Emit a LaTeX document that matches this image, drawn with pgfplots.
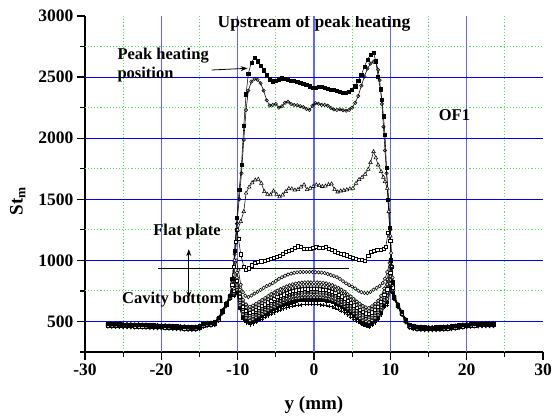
\documentclass[border=0pt]{standalone}
\usepackage{fontspec}
\setmainfont{Liberation Serif}
\usepackage{pgfplots}
\usepackage{pgfplotstable}
\pgfplotsset{compat=1.18}
\usetikzlibrary{arrows.meta}
\definecolor{gridblue}{RGB}{0,0,255}
\definecolor{vgridblue}{RGB}{100,100,255}
\definecolor{gridgreen}{RGB}{80,230,80}

\pgfplotstableread{
x s1 s2 s3 s4 s5 s6 s7 s8 s9 s10 s11 s12 s13
-27 480 476 472 468 464 484 460 478 466 474 470 482 462
-26.5 479 475 471 467 463 483 459 477 465 473 469 481 461
-26 478 474 470 466 462 482 458 476 464 472 468 480 460
-25.5 477 473 469 465 461 481 457 475 463 471 467 479 459
-25 476 472 468 464 460 480 456 474 462 470 466 478 458
-24.5 475 471 467 463 459 479 455 473 461 469 465 477 457
-24 474 470 466 462 458 478 454 472 460 468 464 476 456
-23.5 473 469 465 461 457 477 453 471 459 467 463 475 455
-23 473 469 465 461 457 477 453 471 459 467 463 475 455
-22.5 472 468 464 460 456 476 452 470 458 466 462 474 454
-22 471 467 463 459 455 475 451 469 457 465 461 473 453
-21.5 469 465 461 457 453 473 449 467 455 463 459 471 451
-21 468 464 460 456 452 472 448 466 454 462 458 470 450
-20.5 467 463 459 455 451 471 447 465 453 461 457 469 449
-20 466 462 458 454 450 470 446 464 452 460 456 468 448
-19.5 465 461 457 453 449 469 445 463 451 459 455 467 447
-19 463 459 455 451 447 467 443 461 449 457 453 465 445
-18.5 461 457 453 449 445 465 441 459 447 455 451 463 443
-18 460 456 452 448 444 464 440 458 446 454 450 462 442
-17.5 458 454 450 446 442 462 438 456 444 452 448 460 440
-17 456 452 448 444 440 460 436 454 442 450 446 458 438
-16.5 454 450 446 442 438 458 434 452 440 448 444 456 436
-16 453 449 445 441 437 457 433 451 439 447 443 455 435
-15.5 454 450 446 442 438 458 434 452 440 448 444 456 436
-15 460 456 452 448 444 464 440 458 446 454 450 462 442
-14.5 478 474 470 466 462 482 458 476 464 472 468 480 460
-14 486 482 478 474 470 490 466 484 472 480 476 488 468
-13.5 488 484 480 476 472 492 468 486 474 482 478 490 470
-13 493 489 485 481 477 497 473 491 479 487 483 495 475
-12.5 528 524 520 516 512 532 508 526 514 522 518 530 510
-12 588 584 580 576 572 592 568 586 574 582 578 590 570
-11.5 648 644 640 636 632 652 628 646 634 642 638 650 630
-11 708 704 700 696 692 712 688 706 694 702 698 710 690
}\outerL

\pgfplotstableread{
x s1 s2 s3 s4 s5 s6 s7 s8 s9 s10 s11 s12 s13
10.5 705 701 697 693 689 709 685 703 691 699 695 707 687
11 638 634 630 626 622 642 618 636 624 632 628 640 620
11.5 578 574 570 566 562 582 558 576 564 572 568 580 560
12 515 511 507 503 499 519 495 513 501 509 505 517 497
12.5 470 466 462 458 454 474 450 468 456 464 460 472 452
13 460 456 452 448 444 464 440 458 446 454 450 462 442
13.5 455 451 447 443 439 459 435 453 441 449 445 457 437
14 453 449 445 441 437 457 433 451 439 447 443 455 435
14.5 452 448 444 440 436 456 432 450 438 446 442 454 434
15 451 447 443 439 435 455 431 449 437 445 441 453 433
15.5 451 447 443 439 435 455 431 449 437 445 441 453 433
16 452 448 444 440 436 456 432 450 438 446 442 454 434
16.5 453 449 445 441 437 457 433 451 439 447 443 455 435
17 455 451 447 443 439 459 435 453 441 449 445 457 437
17.5 457 453 449 445 441 461 437 455 443 451 447 459 439
18 460 456 452 448 444 464 440 458 446 454 450 462 442
18.5 463 459 455 451 447 467 443 461 449 457 453 465 445
19 468 464 460 456 452 472 448 466 454 462 458 470 450
19.5 472 468 464 460 456 476 452 470 458 466 462 474 454
20 476 472 468 464 460 480 456 474 462 470 466 478 458
20.5 479 475 471 467 463 483 459 477 465 473 469 481 461
21 481 477 473 469 465 485 461 479 467 475 471 483 463
21.5 482 478 474 470 466 486 462 480 468 476 472 484 464
22 483 479 475 471 467 487 463 481 469 477 473 485 465
22.5 483 479 475 471 467 487 463 481 469 477 473 485 465
23 484 480 476 472 468 488 464 482 470 478 474 486 466
23.5 484 480 476 472 468 488 464 482 470 478 474 486 466
}\outerR

\pgfplotstableread{
x s6 s7 s8 s9 s10 s11 s12 s13
-11 712 688 706 694 702 698 710 690
-10.5 800 770 750 740 730 720 715 710
-10.1 900 860 830 800 780 760 740 720
-9.7 760 728 700 675 655 635 615 598
-9.3 676 648 622 600 580 560 540 520
-8.9 640 615 590 570 550 530 510 490
-8.4 620 595 570 550 530 510 490 475
-8 630 605 580 560 540 520 499 483
-7.6 644 618 593 573 553 533 513 495
-7.2 660 634 609 588 568 548 528 508
-6.8 676 650 625 604 583 563 543 521
-6.4 692 665 640 619 598 578 558 534
-6 708 681 656 634 614 594 573 548
-5.6 724 696 671 650 629 609 588 561
-5.2 738 710 685 663 642 622 601 572
-4.8 752 724 699 677 655 635 614 584
-4.4 764 735 710 688 667 647 625 594
-4 776 747 722 700 678 658 637 604
-3.6 786 757 732 709 688 668 646 612
-3.2 796 767 742 719 697 677 655 620
-2.8 804 774 749 727 705 685 663 627
-2.4 810 780 755 732 711 691 669 632
-2 814 784 759 736 714 694 672 635
-1.6 818 788 763 740 718 698 676 638
-1.2 820 790 765 742 720 700 678 640
-0.8 821 791 764 743 719 701 677 641
-0.4 820 790 765 742 720 700 678 640
0 819 791 766 741 721 699 679 639
0.4 820 790 765 742 720 700 678 640
0.8 818 788 763 740 718 698 676 638
1.2 816 786 761 738 716 696 674 636
1.6 812 782 757 734 712 692 670 633
2 805 776 751 728 706 686 664 627
2.4 797 767 742 719 697 677 656 620
2.8 786 757 732 709 687 667 646 610
3.2 774 745 720 696 675 655 633 599
3.6 759 731 706 682 661 641 619 586
4 742 714 689 665 644 624 603 572
4.4 723 696 671 647 626 606 585 555
4.8 705 677 652 628 607 587 566 538
5.2 684 657 632 607 587 567 546 520
5.6 663 636 611 587 566 546 526 501
6 644 618 593 568 548 528 507 485
6.4 627 601 576 552 531 511 491 470
6.8 616 591 566 541 521 501 481 461
7.2 610 585 560 535 515 495 475 455
7.6 625 600 575 550 530 510 490 470
8 645 620 595 570 550 530 510 490
8.4 670 645 620 595 575 555 535 515
8.8 710 685 660 635 615 595 575 555
9.2 770 745 720 695 675 655 635 615
9.6 844 804 764 736 710 684 658 632
10 1000 950 900 870 840 810 780 750
10.3 820 800 780 770 760 750 740 730
10.5 709 685 703 691 699 695 707 687
}\lowc

\pgfplotsset{
 base/.style={black, line width=0.55pt},
 s1/.style={base, mark=square*, mark size=1.6pt, mark options={solid, fill=black}},
 s2/.style={base, mark=o, mark size=1.7pt, mark options={solid, fill=white, line width=0.55pt}},
 s3/.style={base, mark=triangle*, mark size=2.1pt, mark options={solid, fill=white, line width=0.55pt}},
 s4/.style={base, mark=square*, mark size=1.6pt, mark options={solid, fill=white, line width=0.55pt}},
 s5/.style={base, mark=*, mark size=1.7pt, mark options={solid, fill=white, line width=0.55pt}},
 s6/.style={base, mark=*, mark size=1.7pt, mark options={solid, fill=white, line width=0.6pt}},
 s7/.style={base, mark=diamond*, mark size=2pt, mark options={solid, fill=white, line width=0.6pt}},
 s8/.style={base, mark=square*, mark size=1.6pt, mark options={solid, fill=white, line width=0.6pt}},
 s9/.style={base, mark=triangle*, mark size=2pt, mark options={solid, fill=white, line width=0.6pt}},
 s10/.style={base, mark=triangle*, mark size=2pt, mark options={solid, fill=white, rotate=180, line width=0.6pt}},
 s11/.style={base, mark=*, mark size=1.7pt, mark options={solid, fill=white, line width=0.6pt}},
 s12/.style={base, mark=square*, mark size=1.3pt, mark options={solid, fill=black}},
 s13/.style={base, mark=+, mark size=2pt, mark options={solid, line width=0.6pt}},
}

\begin{document}
\begin{tikzpicture}
\begin{axis}[
  scale only axis, width=458pt, height=336pt,
  xmin=-30, xmax=30, ymin=250, ymax=3000,
  axis x line*=bottom, axis y line*=left,
  axis line style={line width=1.4pt, black},
  xtick={-30,-20,...,30},
  ytick={500,1000,...,3000},
  minor xtick={-25,-15,-5,5,15,25}, minor ytick={250,750,1250,1750,2250,2750},
  tick align=outside, major tick length=8pt, minor tick length=4.5pt,
  tick style={draw=black, line width=1.2pt},
  scaled y ticks=false,
  /pgf/number format/1000 sep={},
  /pgf/number format/assume math mode=true,
  ticklabel style={font=\bfseries\fontsize{17.5}{18}\selectfont},
  xlabel={y (mm)},
  xlabel style={font=\bfseries\fontsize{19}{20}\selectfont, at={(axis description cs:0.5,-0.158)}, anchor=center},
  ylabel={St\textsubscript{m}},
  ylabel style={font=\bfseries\fontsize{19}{20}\selectfont, at={(axis description cs:-0.147,0.45)}, anchor=center},
]
% grid (drawn first, behind the data)
\pgfplotsinvokeforeach{-25,-15,-5,5,15,25}{
  \draw[gridgreen, dotted, line width=1.1pt] (axis cs:#1,250) -- (axis cs:#1,3000);
}
\pgfplotsinvokeforeach{750,1250,1750,2250,2750}{
  \draw[gridgreen, dotted, line width=1.1pt] (axis cs:-30,#1) -- (axis cs:30,#1);
}
\pgfplotsinvokeforeach{-20,-10,0,10,20}{
  \draw[vgridblue, line width=1.1pt] (axis cs:#1,250) -- (axis cs:#1,3000);
}
\pgfplotsinvokeforeach{500,1000,1500,2000,2500}{
  \draw[gridblue, line width=1pt] (axis cs:-30,#1) -- (axis cs:30,#1);
}
% lower cluster
\pgfplotsinvokeforeach{s13,s12,s11,s10,s9,s8,s7,s6}{
  \addplot[#1] table[x=x,y=#1] {\outerL};
  \addplot[#1] table[x=x,y=#1] {\lowc};
  \addplot[#1] table[x=x,y=#1] {\outerR};
}
% S5
\addplot[s5] table[x=x,y=s5] {\outerL};
\addplot[s5] coordinates {(-11,692)(-10.7,780)(-10.5,880)(-10.2,1000)(-9.9,920)(-9.6,800)(-9.3,740)(-9,710)(-8.6,700)(-8.2,712)(-7.8,728)(-7.4,742)(-7,758)(-6.6,775)(-6.2,790)(-5.8,800)(-5.4,815)(-5,832)(-4.6,848)(-4.2,862)(-3.8,874)(-3.4,884)(-3,892)(-2.6,898)(-2.2,902)(-1.8,905)(-1.4,905)(-1,905)(-0.6,905)(-0.2,904)(0.2,903)(0.6,902)(1,900)(1.4,896)(1.8,888)(2.2,880)(2.6,872)(3,862)(3.4,848)(3.8,830)(4.2,812)(4.6,798)(5,786)(5.4,770)(5.8,752)(6.2,740)(6.6,733)(7,732)(7.4,742)(7.8,760)(8.2,775)(8.6,790)(9,815)(9.3,850)(9.6,905)(9.9,980)(10.1,1060)(10.3,860)(10.5,689)};
\addplot[s5] table[x=x,y=s5] {\outerR};
% S4
\addplot[s4] table[x=x,y=s4] {\outerL};
\addplot[s4] coordinates {(-11,696)(-10.7,800)(-10.5,950)(-10.3,1150)(-10.1,1250)(-9.9,1180)(-9.6,1050)(-9.2,950)(-8.9,922)(-8.5,935)(-8.1,960)(-7.7,980)(-7.3,990)(-6.9,992)(-6.5,998)(-6.1,1008)(-5.7,1015)(-5.3,1020)(-4.9,1030)(-4.5,1040)(-4.1,1055)(-3.7,1070)(-3.3,1080)(-2.9,1085)(-2.5,1100)(-2.1,1115)(-1.7,1108)(-1.3,1095)(-0.9,1092)(-0.5,1095)(-0.1,1105)(0.3,1108)(0.7,1100)(1.1,1103)(1.5,1113)(1.9,1095)(2.3,1085)(2.7,1075)(3.1,1065)(3.5,1055)(3.9,1050)(4.3,1042)(4.7,1030)(5.1,1018)(5.5,1010)(5.9,1005)(6.3,1002)(6.7,995)(7.1,1040)(7.5,1072)(7.9,1080)(8.3,1085)(8.7,1088)(9.1,1092)(9.4,1110)(9.7,1225)(10,1160)(10.2,950)(10.5,693)};
\addplot[s4] table[x=x,y=s4] {\outerR};
% S3
\addplot[s3] table[x=x,y=s3] {\outerL};
\addplot[s3] coordinates {(-11,700)(-10.7,820)(-10.4,1000)(-10,1250)(-9.6,1318)(-9.2,1399)(-8.9,1550)(-8.5,1600)(-8.1,1635)(-7.7,1658)(-7.3,1664)(-6.9,1631)(-6.5,1563)(-6.1,1540)(-5.7,1536)(-5.3,1568)(-4.9,1540)(-4.5,1520)(-4.1,1535)(-3.7,1563)(-3.3,1588)(-2.9,1585)(-2.5,1575)(-2.1,1580)(-1.7,1600)(-1.3,1618)(-0.9,1580)(-0.5,1590)(-0.1,1605)(0.3,1618)(0.7,1612)(1.1,1605)(1.5,1608)(1.9,1620)(2.3,1626)(2.7,1580)(3.1,1560)(3.5,1568)(3.9,1572)(4.3,1578)(4.7,1585)(5.1,1590)(5.5,1630)(5.9,1662)(6.3,1680)(6.7,1705)(7.1,1745)(7.4,1800)(7.8,1890)(8.1,1840)(8.4,1781)(8.8,1726)(9.1,1680)(9.3,1645)(9.6,1590)(9.8,1400)(10,1200)(10.2,950)(10.5,697)};
\addplot[s3] table[x=x,y=s3] {\outerR};
% S2
\addplot[s2] table[x=x,y=s2] {\outerL};
\addplot[s2] coordinates {(-11,704)(-10.7,830)(-10.4,1050)(-10.1,1300)(-9.8,1500)(-9.5,1713)(-9.2,1986)(-8.9,2230)(-8.6,2390)(-8.2,2463)(-7.8,2485)(-7.4,2478)(-7,2450)(-6.6,2390)(-6.2,2310)(-5.8,2268)(-5.4,2272)(-5,2280)(-4.6,2250)(-4.2,2262)(-3.8,2290)(-3.4,2299)(-3,2280)(-2.6,2272)(-2.2,2270)(-1.8,2262)(-1.4,2255)(-1,2240)(-0.6,2231)(-0.2,2265)(0.2,2286)(0.6,2282)(1,2273)(1.4,2272)(1.8,2265)(2.2,2248)(2.6,2235)(3,2231)(3.4,2236)(3.8,2228)(4.2,2225)(4.6,2232)(5,2250)(5.4,2290)(5.8,2345)(6.2,2430)(6.6,2504)(7,2570)(7.4,2610)(7.8,2626)(8.1,2626)(8.4,2560)(8.6,2476)(8.9,2280)(9.1,2094)(9.3,1900)(9.5,1713)(9.8,1495)(10,1250)(10.2,950)(10.5,701)};
\addplot[s2] table[x=x,y=s2] {\outerR};
% S1
\addplot[s1] table[x=x,y=s1] {\outerL};
\addplot[s1] coordinates {(-11,708)(-10.7,850)(-10.4,1080)(-10.1,1350)(-9.8,1580)(-9.5,1780)(-9.2,2100)(-8.9,2360)(-8.6,2530)(-8.2,2620)(-7.8,2660)(-7.4,2630)(-7,2595)(-6.6,2555)(-6.2,2515)(-5.8,2482)(-5.4,2466)(-5,2470)(-4.6,2482)(-4.2,2490)(-3.8,2485)(-3.4,2478)(-3,2472)(-2.6,2470)(-2.2,2462)(-1.8,2455)(-1.4,2446)(-1,2436)(-0.6,2425)(-0.2,2412)(0.2,2410)(0.6,2418)(1,2422)(1.4,2415)(1.8,2405)(2.2,2398)(2.6,2393)(3,2388)(3.4,2380)(3.8,2373)(4.2,2372)(4.6,2378)(5,2395)(5.4,2425)(5.8,2470)(6.2,2517)(6.6,2585)(7,2645)(7.4,2680)(7.8,2700)(8.1,2630)(8.4,2500)(8.7,2400)(8.9,2313)(9.1,2180)(9.3,2027)(9.5,1760)(9.7,1495)(9.9,1266)(10.1,1000)(10.3,820)(10.5,705)};
\addplot[s1] table[x=x,y=s1] {\outerR};

% annotations
\node[anchor=base, font=\bfseries\fontsize{17.5}{18}\selectfont] at (axis cs:0,2906) {Upstream of peak heating};
\node[anchor=base west, font=\bfseries\fontsize{16.5}{18}\selectfont] at (axis cs:-26.2,2640) {Peak heating};
\node[anchor=base west, font=\bfseries\fontsize{16.5}{18}\selectfont] at (axis cs:-26.2,2485) {position};
\draw[line width=0.8pt, -{Stealth[length=7pt,width=5pt]}] (axis cs:-13.4,2558) -- (axis cs:-8.7,2572);
\node[anchor=base west, font=\bfseries\fontsize{16.5}{18}\selectfont] at (axis cs:15.9,2144) {OF1};
\node[anchor=base west, font=\bfseries\fontsize{16.5}{18}\selectfont] at (axis cs:-21.5,1200) {Flat plate};
\node[anchor=base west, font=\bfseries\fontsize{16.5}{18}\selectfont] at (axis cs:-25.6,650) {Cavity bottom};
\draw[line width=0.9pt, {Stealth[length=7pt,width=5pt]}-{Stealth[length=7pt,width=5pt]}] (axis cs:-16.4,1092) -- (axis cs:-16.4,690);
\draw[line width=1pt] (axis cs:-20.4,935) -- (axis cs:4.55,935);
\end{axis}
\pgfresetboundingbox
\path[use as bounding box] ([xshift=-85pt,yshift=-64pt]current axis.south west) rectangle ([xshift=10pt,yshift=16pt]current axis.north east);
\end{tikzpicture}
\end{document}
